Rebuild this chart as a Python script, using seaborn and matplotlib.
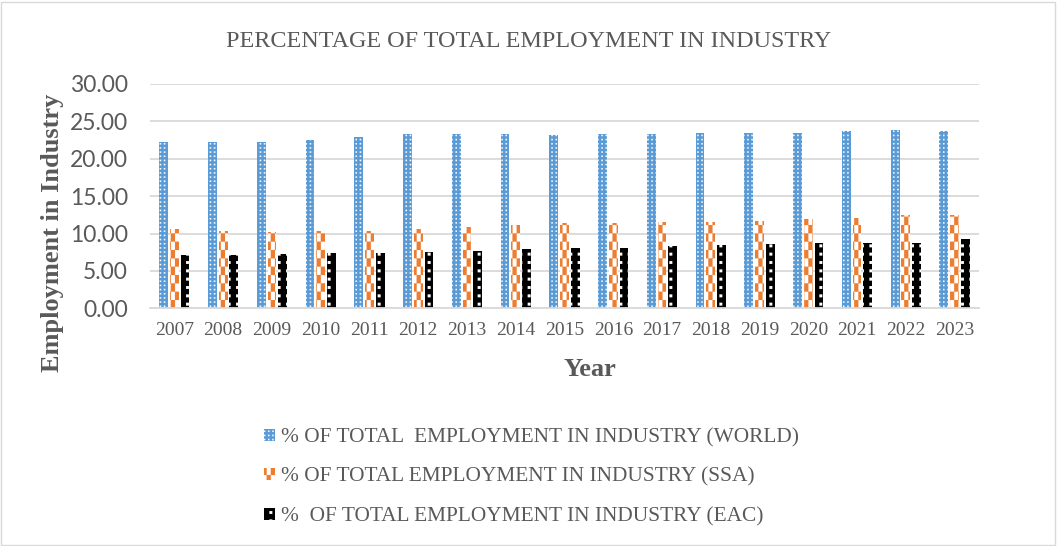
import warnings

import numpy as np
import pandas as pd
import matplotlib
matplotlib.use("Agg")
import matplotlib.pyplot as plt
from matplotlib import hatch as mhatch
from matplotlib.path import Path
from matplotlib.patches import Rectangle
import seaborn as sns

warnings.filterwarnings("ignore", category=matplotlib.MatplotlibDeprecationWarning)

# ---------------------------------------------------------------- data
years = [2007, 2008, 2009, 2010, 2011, 2012, 2013, 2014, 2015,
         2016, 2017, 2018, 2019, 2020, 2021, 2022, 2023]
world = [22.20, 22.30, 22.25, 22.57, 22.90, 23.30, 23.30, 23.37, 23.24,
         23.30, 23.37, 23.50, 23.50, 23.42, 23.70, 23.83, 23.70]
ssa = [10.57, 10.35, 10.26, 10.35, 10.35, 10.60, 10.84, 11.10, 11.37,
       11.37, 11.55, 11.55, 11.64, 11.90, 12.09, 12.45, 12.49]
eac = [7.13, 7.18, 7.20, 7.36, 7.45, 7.53, 7.67, 7.90, 8.03,
       8.11, 8.30, 8.43, 8.57, 8.70, 8.70, 8.72, 9.28]
series_labels = ["% OF TOTAL  EMPLOYMENT IN INDUSTRY (WORLD)",
                 "% OF TOTAL EMPLOYMENT IN INDUSTRY (SSA)",
                 "%  OF TOTAL EMPLOYMENT IN INDUSTRY (EAC)"]
y_ticks = [0, 5, 10, 15, 20, 25, 30]

df = pd.DataFrame({
    "Year": [str(y) for y in years] * 3,
    "Value": world + ssa + eac,
    "Series": np.repeat(series_labels, len(years)),
})


# ------------------------------------------------------ fill patterns
_SQUARE_CODES = [Path.MOVETO, Path.LINETO, Path.LINETO, Path.LINETO,
                 Path.CLOSEPOLY]


def _rect(x0, y0, x1, y1):
    return np.array([[x0, y0], [x1, y0], [x1, y1], [x0, y1], [x0, y0]])


class DotGridHatch(mhatch.HatchPatternBase):
    """':' - small filled squares on a regular grid."""

    def __init__(self, hatch, density):
        self.rows = hatch.count(":") * density
        self.num_vertices = (self.rows + 1) ** 2 * 5 if self.rows else 0

    def set_vertices_and_codes(self, vertices, codes):
        step = 1.0 / self.rows
        half = step * 0.17
        centers = np.arange(self.rows + 1) * step + step / 2
        parts = [_rect(cx - half, cy - half, cx + half, cy + half)
                 for cy in centers for cx in centers]
        vertices[:] = np.concatenate(parts)
        codes[:] = np.tile(_SQUARE_CODES, len(parts))


class CheckerHatch(mhatch.HatchPatternBase):
    """'k' - tall checkerboard cells."""

    def __init__(self, hatch, density):
        self.rows = hatch.count("k") * density
        if self.rows:
            self.cells = [(r, c) for r in range(self.rows + 1)
                          for c in range(2 * self.rows + 2)
                          if (r + c) % 2 == 0]
            self.num_vertices = len(self.cells) * 5
        else:
            self.num_vertices = 0

    def set_vertices_and_codes(self, vertices, codes):
        h = 1.0 / self.rows
        w = h / 2
        parts = [_rect(c * w, r * h, (c + 1) * w, (r + 1) * h)
                 for r, c in self.cells]
        vertices[:] = np.concatenate(parts)
        codes[:] = np.tile(_SQUARE_CODES, len(parts))


mhatch._hatch_types.extend([DotGridHatch, CheckerHatch])

# ------------------------------------------------------------- styling
sns.set_theme(style="white")
plt.rcParams["font.family"] = ["Liberation Serif", "DejaVu Serif"]
plt.rcParams["hatch.linewidth"] = 0.1

TEXT = "#595959"
GRID = "#D9D9D9"
BLUE = "#5B9BD5"
ORANGE = "#ED7D31"

fig = plt.figure(figsize=(10.57, 5.46), dpi=100)
ax = fig.add_axes([0.1419, 0.4353, 0.7843, 0.4109])

sns.barplot(data=df, x="Year", y="Value", hue="Series",
            hue_order=series_labels, palette=[BLUE, "white", "black"],
            width=0.66, gap=0.18, dodge=True, saturation=1,
            errorbar=None, ax=ax, legend=False)

styles = [
    dict(facecolor=BLUE, edgecolor="white", hatch="::::"),
    dict(facecolor="white", edgecolor=ORANGE, hatch="kk"),
    dict(facecolor="black", edgecolor="white", hatch="::"),
]
for container, st in zip(ax.containers, styles):
    for bar in container.patches:
        bar.set_facecolor(st["facecolor"])
        bar.set_edgecolor(st["edgecolor"])
        bar.set_hatch(st["hatch"])
        bar.set_linewidth(0)

# axes
ax.set_ylim(0, 30)
ax.set_xlim(-0.5, len(years) - 0.5)
ax.set_yticks(y_ticks)
ax.set_yticklabels([f"{v:.2f}" for v in y_ticks], family="Lato",
                   fontsize=16.5, color=TEXT)
ax.set_xticks(range(len(years)))
ax.set_xticklabels([str(y) for y in years], fontsize=14, color=TEXT)
ax.tick_params(axis="both", length=0)
ax.tick_params(axis="y", pad=16)
ax.tick_params(axis="x", pad=10)

ax.set_axisbelow(True)
ax.yaxis.grid(True, color=GRID, linewidth=1.3)
ax.xaxis.grid(False)
for side in ["left", "right", "top"]:
    ax.spines[side].set_visible(False)
ax.spines["bottom"].set_color(GRID)
ax.spines["bottom"].set_linewidth(1.3)

ax.set_ylabel("Employment in Industry", fontsize=19, fontweight="bold",
              color=TEXT)
ax.yaxis.set_label_coords(-0.104, 0.336)
ax.set_xlabel("Year", fontsize=19, fontweight="bold", color=TEXT)
ax.xaxis.set_label_coords(0.531, -0.222)

fig.suptitle("PERCENTAGE OF TOTAL EMPLOYMENT IN INDUSTRY", x=0.5,
             y=0.944, fontsize=17.4, color=TEXT, va="top")

fig.legend(handles=list(ax.containers), labels=series_labels,
           loc="center", bbox_to_anchor=(0.503, 0.126), ncol=1,
           frameon=False, fontsize=15.4, labelcolor=TEXT,
           handlelength=0.5, handleheight=0.5, handletextpad=0.3,
           labelspacing=0.95)

# thin frame around the figure
fig.add_artist(Rectangle((0.001, 0.001), 0.997, 0.996,
                         transform=fig.transFigure, fill=False,
                         edgecolor=GRID, linewidth=1))

fig.savefig("out.png", dpi=100)
